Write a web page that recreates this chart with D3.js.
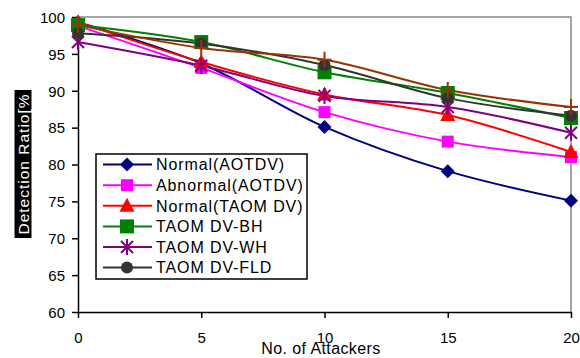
<!DOCTYPE html>
<html>
<head>
<meta charset="utf-8">
<script src="https://cdn.jsdelivr.net/npm/d3@7"></script>
<style>
  body { margin: 0; background: #fff; }
  text { font-family: "Liberation Sans", Arial, sans-serif; }
</style>
</head>
<body>
<div id="chart"></div>
<script>
const attackers = [0, 5, 10, 15, 20];
const seriesNames = ['Normal(AOTDV)', 'Abnormal(AOTDV)', 'Normal(TAOM DV)', 'TAOM DV-BH', 'TAOM DV-WH', 'TAOM DV-FLD', 'TAOM DV'];
const normalAotdv = [99.3, 93.7, 85.1, 79.1, 75.1];
const abnormalAotdv = [98.8, 93.1, 87.1, 83.1, 81.0];
const normalTaomdv = [99.3, 93.9, 89.5, 86.7, 81.7];
const taomdvBh = [98.9, 96.6, 92.5, 89.7, 86.3];
const taomdvWh = [96.6, 93.4, 89.3, 87.8, 84.3];
const taomdvFld = [97.8, 96.4, 93.5, 89.0, 86.6];
const taomdvExtra = [98.9, 95.8, 94.2, 90.1, 87.8];
const yTicks = [60, 65, 70, 75, 80, 85, 90, 95, 100];
const xTicks = [0, 5, 10, 15, 20];

const colors = ['#000080', '#ff00ff', '#ff0000', '#008000', '#800080', '#333333', '#993300'];
const shapes = ['diamond', 'square', 'triangle', 'bigsquare', 'star', 'circle', 'plus'];
const allValues = [normalAotdv, abnormalAotdv, normalTaomdv, taomdvBh, taomdvWh, taomdvFld, taomdvExtra];

const width = 580, height = 358;
const margin = { top: 17, right: 9, bottom: 46, left: 78 };

const svg = d3.select('#chart').append('svg')
    .attr('width', width)
    .attr('height', height);

const x = d3.scaleLinear().domain([0, 20]).range([margin.left, width - margin.right]);
const y = d3.scaleLinear().domain([60, 100]).range([height - margin.bottom, margin.top]);

// top/right frame in gray
svg.append('path')
    .attr('d', `M${x(0)},${y(100)}H${x(20)}V${y(60)}`)
    .attr('fill', 'none').attr('stroke', '#888').attr('stroke-width', 1.5);

const yAxis = svg.append('g')
    .attr('transform', `translate(${x(0)},0)`)
    .call(d3.axisLeft(y).tickValues(yTicks).tickSize(6).tickSizeOuter(0));
const xAxis = svg.append('g')
    .attr('transform', `translate(0,${y(60)})`)
    .call(d3.axisBottom(x).tickValues(xTicks).tickSize(6).tickSizeOuter(0));

[yAxis, xAxis].forEach(g => {
    g.select('.domain').attr('stroke', '#000').attr('stroke-width', 1.5);
    g.selectAll('.tick line').attr('stroke', '#000').attr('stroke-width', 1.5);
    g.selectAll('text').attr('fill', '#000')
        .style('font-size', '15px').style('font-family', '"Liberation Sans", Arial, sans-serif');
});
yAxis.selectAll('text').attr('x', -13).attr('dy', '0.35em');
xAxis.selectAll('text').attr('y', 20).attr('dy', '0.71em');

// axis titles
svg.append('text')
    .attr('x', 321).attr('y', 354)
    .attr('text-anchor', 'middle')
    .style('font-size', '16px')
    .style('letter-spacing', '0.4px')
    .text('No. of Attackers');

const yTitle = svg.append('g').attr('transform', 'translate(23,164) rotate(-90)');
yTitle.append('rect')
    .attr('x', -74).attr('y', -8.5).attr('width', 148).attr('height', 17)
    .attr('fill', '#000');
yTitle.append('text')
    .attr('text-anchor', 'middle').attr('dy', '0.36em')
    .attr('fill', '#fff')
    .style('font-size', '15.5px')
    .style('letter-spacing', '1px')
    .text('Detection Ratio[%');

function marker(g, shape, color) {
    if (shape === 'diamond') {
        g.append('path').attr('d', 'M0,-7L7,0L0,7L-7,0Z').attr('fill', color);
    } else if (shape === 'square') {
        g.append('rect').attr('x', -6).attr('y', -6).attr('width', 12).attr('height', 12).attr('fill', color);
    } else if (shape === 'bigsquare') {
        g.append('rect').attr('x', -7).attr('y', -7).attr('width', 14).attr('height', 14).attr('fill', color);
    } else if (shape === 'triangle') {
        g.append('path').attr('d', 'M0,-8L7.5,6L-7.5,6Z').attr('fill', color);
    } else if (shape === 'circle') {
        g.append('circle').attr('r', 6).attr('fill', color);
    } else if (shape === 'star') {
        g.append('path').attr('d', 'M-6,-6L6,6M-6,6L6,-6M0,-8V8')
            .attr('stroke', color).attr('stroke-width', 2).attr('fill', 'none');
    } else if (shape === 'plus') {
        g.append('path').attr('d', 'M-7,0H7M0,-8V8')
            .attr('stroke', color).attr('stroke-width', 2).attr('fill', 'none');
    }
}

const line = d3.line()
    .x((d, i) => x(attackers[i]))
    .y(d => y(d))
    .curve(d3.curveCatmullRom.alpha(0.5));

allValues.forEach((vals, s) => {
    svg.append('path')
        .attr('d', line(vals))
        .attr('fill', 'none')
        .attr('stroke', colors[s])
        .attr('stroke-width', 2);
});
allValues.forEach((vals, s) => {
    svg.selectAll(null)
        .data(vals)
        .enter().append('g')
        .attr('transform', (d, i) => `translate(${x(attackers[i])},${y(d)})`)
        .each(function() { marker(d3.select(this), shapes[s], colors[s]); });
});

// legend
const legend = svg.append('g').attr('transform', 'translate(96,154)');
legend.append('rect')
    .attr('width', 211).attr('height', 125)
    .attr('fill', '#fff').attr('stroke', '#000').attr('stroke-width', 1.5);
seriesNames.slice(0, 6).forEach((name, i) => {
    const row = legend.append('g').attr('transform', `translate(0,${10.6 + i * 20.6})`);
    row.append('line').attr('x1', 7).attr('x2', 56)
        .attr('stroke', colors[i]).attr('stroke-width', 2);
    const m = row.append('g').attr('transform', 'translate(31,0)');
    marker(m, shapes[i], colors[i]);
    row.append('text')
        .attr('x', 60).attr('dy', '0.36em')
        .style('font-size', '16px')
        .style('letter-spacing', '0.9px')
        .text(name);
});
</script>
</body>
</html>
